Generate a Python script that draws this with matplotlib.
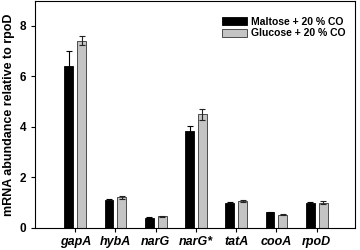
import matplotlib.pyplot as plt
import numpy as np

genes = ['gapA', 'hybA', 'narG', 'narG*', 'tatA', 'cooA', 'rpoD']
maltose = [6.42, 1.1, 0.4, 3.85, 1.0, 0.62, 1.0]
maltose_err = [0.58, 0.05, 0.02, 0.2, 0.04, 0.02, 0.04]
glucose = [7.4, 1.22, 0.46, 4.5, 1.07, 0.52, 1.0]
glucose_err = [0.18, 0.06, 0.02, 0.22, 0.05, 0.02, 0.05]

plt.rcParams['font.family'] = 'Liberation Sans'

fig = plt.figure(figsize=(3.6, 2.5), dpi=100)
ax = fig.add_axes([0.097, 0.088, 0.889, 0.91])

x = np.arange(len(genes))
w = 0.22
ax.bar(x - 0.16, maltose, w, color='black', edgecolor='black', linewidth=0.6,
       yerr=maltose_err, error_kw=dict(elinewidth=0.8, capsize=2.5, capthick=0.8, ecolor='black'),
       label='Maltose + 20 % CO')
ax.bar(x + 0.16, glucose, w, color='#c4c4c4', edgecolor='#333333', linewidth=0.6,
       yerr=glucose_err, error_kw=dict(elinewidth=0.8, capsize=2.5, capthick=0.8, ecolor='#222222'),
       label='Glucose + 20 % CO')

ax.set_xlim(-1, 6.95)
ax.set_ylim(0, 9)
ax.set_yticks([0, 2, 4, 6, 8])
ax.set_xticks(x)
ax.set_xticklabels(genes, fontstyle='italic', fontweight='bold', fontsize=9)
ax.tick_params(axis='y', labelsize=8.5, length=3, width=0.8)
ax.tick_params(axis='x', length=3, width=0.8, pad=3)
for lab in ax.get_yticklabels():
    lab.set_fontweight('bold')
ax.set_ylabel('mRNA abundance relative to rpoD', fontsize=9, fontweight='bold', labelpad=3)
for s in ax.spines.values():
    s.set_linewidth(0.8)

ax.legend(loc='upper right', bbox_to_anchor=(1.0, 0.97), frameon=False,
          prop=dict(size=7.5, weight='bold'), handlelength=2.4, handleheight=0.8,
          labelspacing=0.15, handletextpad=0.4)

fig.savefig('out.png', dpi=100)
